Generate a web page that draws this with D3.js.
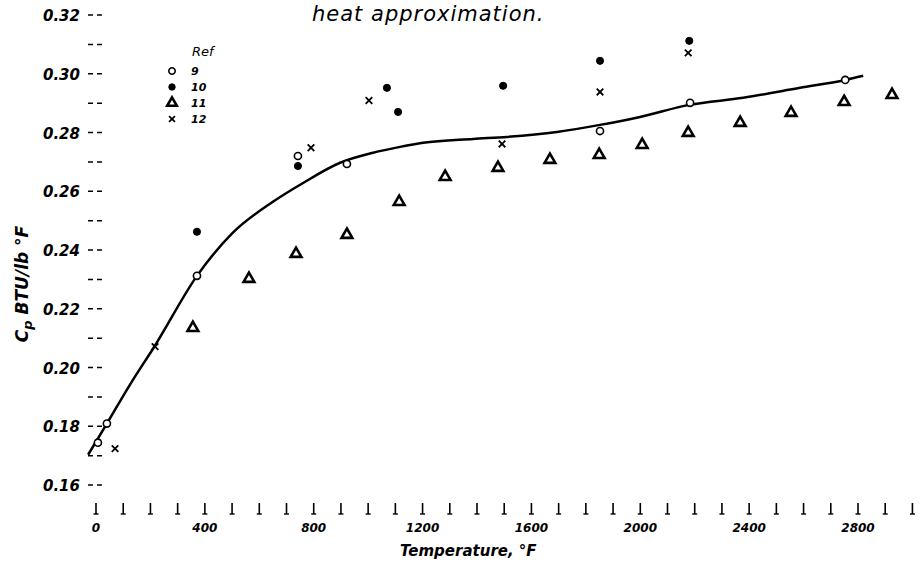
<!DOCTYPE html>
<html>
<head>
<meta charset="utf-8">
<script src="https://cdn.jsdelivr.net/npm/d3@7"></script>
<style>
  body { margin: 0; background: #fff; }
  text { font-family: "DejaVu Sans", sans-serif; font-style: italic; fill: #000; }
</style>
</head>
<body>
<div class="chart"></div>
<script>
var width = 920,
    height = 567;

// temperature (deg F) and Cp (BTU/lb deg F)
var ref9T  = [7, 40, 371, 742, 922, 1852, 2183, 2753];
var ref9Cp = [0.1744, 0.1809, 0.2312, 0.2720, 0.2693, 0.2805, 0.2901, 0.2979];

var ref10T  = [371, 742, 1069, 1110, 1496, 1852, 2180];
var ref10Cp = [0.2462, 0.2686, 0.2952, 0.2870, 0.2959, 0.3044, 0.3112];

var ref11T  = [356, 562, 735, 922, 1114, 1283, 1477, 1668, 1849, 2007, 2176, 2367, 2554, 2749, 2925];
var ref11Cp = [0.2135, 0.2302, 0.2387, 0.2452, 0.2564, 0.2649, 0.2680, 0.2707, 0.2724, 0.2758, 0.2799, 0.2833, 0.2867, 0.2904, 0.2928];

var ref12T  = [70, 217, 790, 1003, 1492, 1852, 2176];
var ref12Cp = [0.1724, 0.2071, 0.2748, 0.2909, 0.2761, 0.2938, 0.3071];

// faired curve
var curveT  = [-29, 40, 125, 217, 371, 503, 650, 750, 897, 1018, 1117, 1202, 1386, 1510, 1694, 1852, 1999, 2180, 2378, 2587, 2753, 2819];
var curveCp = [0.1703, 0.1809, 0.1942, 0.2075, 0.2312, 0.2459, 0.2564, 0.2622, 0.2697, 0.2731, 0.2751, 0.2765, 0.2778, 0.2785, 0.2802, 0.2826, 0.2853, 0.2894, 0.2918, 0.2952, 0.2979, 0.2993];

var xLabels = [0, 400, 800, 1200, 1600, 2000, 2400, 2800];
var yLabels = [0.32, 0.30, 0.28, 0.26, 0.24, 0.22, 0.20, 0.18, 0.16];
var refNames = ["9", "10", "11", "12"];

var x = d3.scaleLinear().domain([0, 2800]).range([96, 858]);
var y = d3.scaleLinear().domain([0.16, 0.32]).range([485, 15]);

var svg = d3.select(".chart").append("svg")
    .attr("width", width)
    .attr("height", height);

function pts(T, C) { return T.map(function(t, i) { return [t, C[i]]; }); }

// title
svg.append("text")
    .attr("x", 312)
    .attr("y", 21)
    .attr("font-size", 21)
    .attr("letter-spacing", 1)
    .text("heat approximation.");

// y ticks, every 0.01
var yTicks = d3.range(0.16, 0.3201, 0.01);
svg.append("g").selectAll("line")
    .data(yTicks)
    .enter().append("line")
    .attr("x1", 88).attr("x2", 104)
    .attr("y1", function(d) { return y(d); })
    .attr("y2", function(d) { return y(d); })
    .attr("stroke", "#000")
    .attr("stroke-width", 1.5)
    .attr("stroke-dasharray", "5,4");

svg.append("g").selectAll("text")
    .data(yLabels)
    .enter().append("text")
    .attr("x", 80)
    .attr("y", function(d) { return y(d) + 6; })
    .attr("text-anchor", "end")
    .attr("font-size", 15)
    .attr("font-weight", "bold")
    .text(function(d) { return d.toFixed(2); });

// x ticks, every 100 F
var xTicks = d3.range(0, 3001, 100);
var xt = svg.append("g").selectAll("g")
    .data(xTicks)
    .enter().append("g")
    .attr("transform", function(d) { return "translate(" + x(d) + ",0)"; });
xt.append("line")
    .attr("y1", 503).attr("y2", 514)
    .attr("stroke", "#000").attr("stroke-width", 1.6);
xt.append("line")
    .attr("x1", -2.5).attr("x2", 2.5)
    .attr("y1", 514).attr("y2", 514)
    .attr("stroke", "#000").attr("stroke-width", 1.4);

svg.append("g").selectAll("text")
    .data(xLabels)
    .enter().append("text")
    .attr("x", function(d) { return x(d); })
    .attr("y", 532)
    .attr("text-anchor", "middle")
    .attr("font-size", 12)
    .attr("font-weight", "bold")
    .text(function(d) { return d; });

// axis titles
svg.append("text")
    .attr("x", 400)
    .attr("y", 556)
    .attr("font-size", 15)
    .attr("font-weight", "bold")
    .text("Temperature, \u00b0F");

var yt = svg.append("text")
    .attr("transform", "translate(28,284) rotate(-90)")
    .attr("text-anchor", "middle")
    .attr("font-size", 17)
    .attr("font-weight", "bold");
yt.append("tspan").text("C");
yt.append("tspan").attr("font-size", 13).attr("dy", 4).text("p");
yt.append("tspan").attr("dy", -4).text(" BTU/lb \u00b0F");

// curve
var line = d3.line()
    .x(function(d) { return x(d[0]); })
    .y(function(d) { return y(d[1]); })
    .curve(d3.curveMonotoneX);

svg.append("path")
    .datum(pts(curveT, curveCp))
    .attr("fill", "none")
    .attr("stroke", "#000")
    .attr("stroke-width", 2.5)
    .attr("d", line);

// marker styles for each reference
var markers = [
    {type: d3.symbolCircle,   size: 40, fill: "#fff", stroke: 1.6},
    {type: d3.symbolCircle,   size: 40, fill: "#000", stroke: 1},
    {type: d3.symbolTriangle, size: 50, fill: "#fff", stroke: 2.6},
    {type: d3.symbolX,        size: 30, fill: "none", stroke: 1.8}
];
var series = [pts(ref9T, ref9Cp), pts(ref10T, ref10Cp), pts(ref11T, ref11Cp), pts(ref12T, ref12Cp)];

series.forEach(function(s, k) {
    var m = markers[k];
    svg.append("g").selectAll("path")
        .data(s)
        .enter().append("path")
        .attr("transform", function(d) { return "translate(" + x(d[0]) + "," + y(d[1]) + ")"; })
        .attr("d", d3.symbol().type(m.type).size(m.size))
        .attr("fill", m.fill)
        .attr("stroke", "#000")
        .attr("stroke-width", m.stroke);
});

// legend
var legend = svg.append("g").attr("transform", "translate(172,52)");
legend.append("text")
    .attr("x", 20).attr("y", 4)
    .attr("font-size", 13)
    .text("Ref");

var rows = legend.selectAll("g.row")
    .data(refNames)
    .enter().append("g")
    .attr("transform", function(d, i) { return "translate(0," + (19 + i * 16) + ")"; });
rows.append("path")
    .attr("d", function(d, i) { return d3.symbol().type(markers[i].type).size(markers[i].size * 0.8)(); })
    .attr("fill", function(d, i) { return markers[i].fill; })
    .attr("stroke", "#000")
    .attr("stroke-width", function(d, i) { return markers[i].stroke; });
rows.append("text")
    .attr("x", 19).attr("y", 4)
    .attr("font-size", 11)
    .attr("font-weight", "bold")
    .text(function(d) { return d; });
</script>
</body>
</html>
